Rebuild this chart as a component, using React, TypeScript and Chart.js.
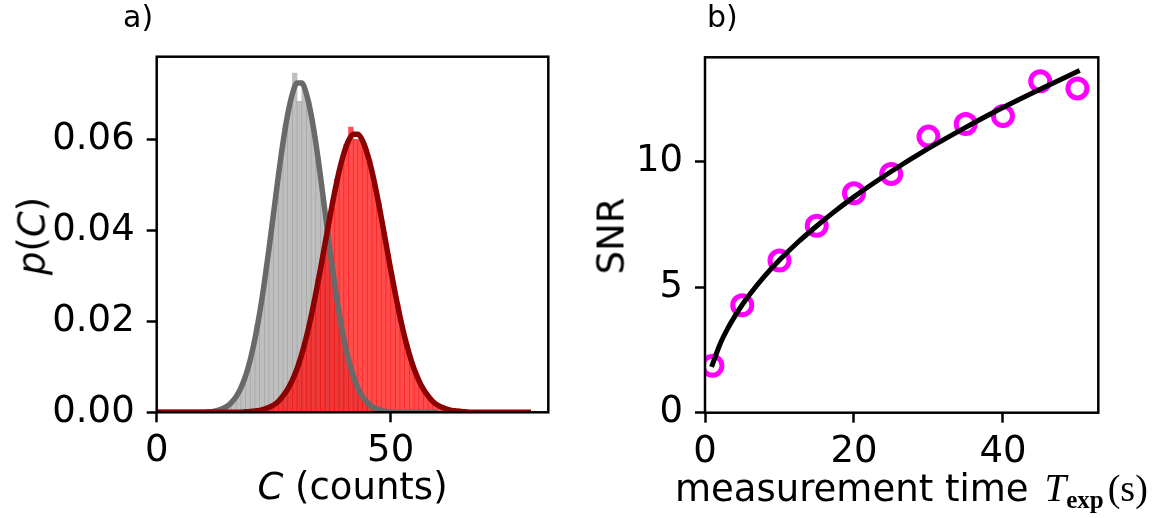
import React, { useEffect, useRef } from "react";
import { Chart, registerables } from "chart.js";

Chart.register(...registerables);

// ---------- Panel a: photon-count histograms ----------
const A_X_TICKS = [0, 50];
const A_X_TICK_LABELS = ["0", "50"];
const A_Y_TICKS = [0, 0.02, 0.04, 0.06];
const A_Y_TICK_LABELS = ["0.00", "0.02", "0.04", "0.06"];

// gray histogram: bins [k, k+1), first bin k = 12
const GRAY_HIST_FIRST_BIN = 12;
const GRAY_HIST = [
  0.0003, 0.0006, 0.001, 0.0018, 0.0027, 0.0045, 0.0064, 0.0099, 0.0136, 0.0192,
  0.0248, 0.0325, 0.0396, 0.0484, 0.0553, 0.0632, 0.0676, 0.0747, 0.0685, 0.0712,
  0.0684, 0.0622, 0.0561, 0.0476, 0.0403, 0.0319, 0.0254, 0.0186, 0.014, 0.0095,
  0.0067, 0.0043, 0.0029, 0.0016, 0.001, 0.0005, 0.0003, 0.0002, 0.0001,
];

// red histogram: bins [k, k+1), first bin k = 20
const RED_HIST_FIRST_BIN = 20;
const RED_HIST = [
  0.0002, 0.0003, 0.0006, 0.0008, 0.0014, 0.0019, 0.0031, 0.0042, 0.0062, 0.0081,
  0.0114, 0.0143, 0.0191, 0.0232, 0.0292, 0.034, 0.0405, 0.0452, 0.0513, 0.0547,
  0.059, 0.0628, 0.0601, 0.06, 0.0583, 0.0556, 0.0501, 0.0461, 0.0396, 0.0348,
  0.0284, 0.0238, 0.0185, 0.0149, 0.0109, 0.0085, 0.0058, 0.0044, 0.0029, 0.0021,
  0.0012, 0.0009, 0.0005, 0.0003, 0.0002, 0.0001,
];

// smooth model curves, sampled at C = 0, 1, 2, ...
const GRAY_CURVE_FIRST_C = 0;
const GRAY_CURVE = [
  0, 0, 0, 0, 0, 0, 0, 0, 0, 0, 0,
  0.0001, 0.0002, 0.0004, 0.0008, 0.0013, 0.0022, 0.0035, 0.0054, 0.008, 0.0116,
  0.0162, 0.0218, 0.0285, 0.036, 0.044, 0.052, 0.0594, 0.0656, 0.0701, 0.0725,
  0.0725, 0.0701, 0.0656, 0.0594, 0.052, 0.044, 0.036, 0.0285, 0.0218, 0.0162,
  0.0116, 0.008, 0.0054, 0.0035, 0.0022, 0.0013, 0.0008, 0.0004, 0.0002, 0.0001,
  0, 0, 0, 0, 0, 0, 0, 0, 0, 0,
];
const RED_CURVE_FIRST_C = 0;
const RED_CURVE = [
  0, 0, 0, 0, 0, 0, 0, 0, 0, 0, 0, 0, 0, 0, 0, 0, 0, 0, 0,
  0.0001, 0.0002, 0.0003, 0.0004, 0.0007, 0.0011, 0.0016, 0.0024, 0.0036, 0.0051,
  0.0071, 0.0096, 0.0128, 0.0166, 0.0211, 0.0261, 0.0315, 0.0372, 0.0429, 0.0483,
  0.0531, 0.057, 0.0598, 0.0612, 0.0612, 0.0598, 0.057, 0.0531, 0.0483, 0.0429,
  0.0372, 0.0315, 0.0261, 0.0211, 0.0166, 0.0128, 0.0096, 0.0071, 0.0051, 0.0036,
  0.0024, 0.0016, 0.0011, 0.0007, 0.0004, 0.0003, 0.0002, 0.0001,
  0, 0, 0, 0, 0, 0, 0, 0, 0, 0, 0, 0, 0, 0,
];

// ---------- Panel b: SNR vs measurement time ----------
const B_X_TICKS = [0, 20, 40];
const B_X_TICK_LABELS = ["0", "20", "40"];
const B_Y_TICKS = [0, 5, 10];
const B_Y_TICK_LABELS = ["0", "5", "10"];
const MEAS_T = [1, 5, 10, 15, 20, 25, 30, 35, 40, 45, 50];
const MEAS_SNR = [1.87, 4.28, 6.06, 7.45, 8.74, 9.51, 11.0, 11.5, 11.82, 13.21, 12.92];
const FIT_T = [1, 2, 3, 4, 5, 6, 8, 10, 12.5, 15, 17.5, 20, 25, 30, 35, 40, 45, 50];
const FIT_SNR = [
  1.92, 2.72, 3.33, 3.84, 4.3, 4.71, 5.44, 6.08, 6.8, 7.44, 8.04, 8.6, 9.61, 10.53,
  11.37, 12.16, 12.89, 13.59,
];

const FONT = "DejaVu Sans";
const FS = 37;
Chart.defaults.font.family = FONT;
Chart.defaults.color = "#000";

const framePlugin = {
  id: "frame",
  afterDraw(chart: any) {
    const { ctx, chartArea } = chart;
    const { left, top, right, bottom } = chartArea;
    ctx.save();
    ctx.strokeStyle = "#000";
    ctx.lineWidth = 2.5;
    ctx.strokeRect(left, top, right - left, bottom - top);
    ctx.restore();
  },
};

function axis(
  min: number,
  max: number,
  ticks: number[],
  labels: string[],
  size: number,
  horizontal: boolean,
  pad: number
) {
  return {
    type: "linear",
    min,
    max,
    offset: false,
    border: { display: false },
    grid: {
      display: true,
      offset: false,
      drawOnChartArea: false,
      drawTicks: true,
      tickLength: 10,
      tickWidth: 2.5,
      tickColor: "#000",
    },
    ticks: {
      autoSkip: false,
      maxRotation: 0,
      minRotation: 0,
      padding: pad,
      color: "#000",
      font: { family: FONT, size: FS },
      callback: (v: number) => {
        const i = ticks.findIndex((t) => Math.abs(t - v) < 1e-9);
        return i >= 0 ? labels[i] : "";
      },
    },
    afterBuildTicks: (s: any) => {
      s.ticks = ticks.map((v) => ({ value: v }));
    },
    afterFit: (s: any) => {
      if (horizontal) s.height = size;
      else s.width = size;
    },
  };
}

function configA() {
  const grayBars = GRAY_HIST.map((y, i) => ({ x: GRAY_HIST_FIRST_BIN + i + 0.5, y }));
  const redBars = RED_HIST.map((y, i) => ({ x: RED_HIST_FIRST_BIN + i + 0.5, y }));
  const grayLine = GRAY_CURVE.map((y, i) => ({ x: GRAY_CURVE_FIRST_C + i, y }));
  const redLine = RED_CURVE.map((y, i) => ({ x: RED_CURVE_FIRST_C + i, y }));
  return {
    type: "bar",
    data: {
      datasets: [
        {
          type: "line",
          data: redLine,
          borderColor: "#8b0000",
          borderWidth: 5.5,
          pointRadius: 0,
          cubicInterpolationMode: "monotone",
          order: 1,
          clip: 0,
        },
        {
          type: "line",
          data: grayLine,
          borderColor: "#696969",
          borderWidth: 5.5,
          pointRadius: 0,
          cubicInterpolationMode: "monotone",
          order: 2,
          clip: 0,
        },
        {
          type: "bar",
          data: redBars,
          backgroundColor: "rgba(255,0,0,0.7)",
          borderWidth: 0,
          barPercentage: 1,
          categoryPercentage: 1,
          grouped: false,
          order: 3,
          clip: 0,
        },
        {
          type: "bar",
          data: grayBars,
          backgroundColor: "rgba(128,128,128,0.5)",
          borderWidth: 0,
          barPercentage: 1,
          categoryPercentage: 1,
          grouped: false,
          order: 4,
          clip: 0,
        },
      ],
    },
    options: {
      responsive: false,
      animation: false,
      events: [],
      layout: { padding: { left: 0, top: 56.7, right: 30.7, bottom: 0 } },
      plugins: { legend: { display: false }, tooltip: { enabled: false } },
      scales: {
        x: axis(0, 83.7, A_X_TICKS, A_X_TICK_LABELS, 105.7, true, 7),
        y: axis(0, 0.0783, A_Y_TICKS, A_Y_TICK_LABELS, 156.7, false, 12),
      },
    },
    plugins: [framePlugin],
  };
}

function configB() {
  const pts = MEAS_T.map((x, i) => ({ x, y: MEAS_SNR[i] }));
  const fit = FIT_T.map((x, i) => ({ x, y: FIT_SNR[i] }));
  return {
    type: "line",
    data: {
      datasets: [
        {
          type: "line",
          data: fit,
          borderColor: "#000",
          borderWidth: 5,
          borderCapStyle: "square",
          pointRadius: 0,
          cubicInterpolationMode: "monotone",
          order: 1,
          clip: 0,
        },
        {
          type: "line",
          data: pts,
          showLine: false,
          pointRadius: 9.5,
          pointBorderWidth: 5,
          pointBorderColor: "#ff00ff",
          pointBackgroundColor: "rgba(0,0,0,0)",
          borderColor: "#ff00ff",
          order: 2,
          clip: 0,
        },
      ],
    },
    options: {
      responsive: false,
      animation: false,
      events: [],
      layout: { padding: { left: 0, top: 57.3, right: 59.7, bottom: 0 } },
      plugins: { legend: { display: false }, tooltip: { enabled: false } },
      scales: {
        x: axis(0, 52.8, B_X_TICKS, B_X_TICK_LABELS, 105.3, true, 7),
        y: axis(0, 14.16, B_Y_TICKS, B_Y_TICK_LABELS, 126, false, 12),
      },
    },
    plugins: [framePlugin],
  };
}

function ChartCanvas({ make, left }: { make: () => any; left: number }) {
  const ref = useRef<HTMLCanvasElement | null>(null);
  useEffect(() => {
    const chart = new Chart(ref.current as HTMLCanvasElement, make());
    return () => chart.destroy();
  }, []);
  return (
    <canvas
      ref={ref}
      width={579}
      height={518}
      style={{ position: "absolute", left, top: 0, width: 579, height: 518 }}
    />
  );
}

const txt: React.CSSProperties = {
  position: "absolute",
  fontFamily: FONT,
  lineHeight: 1,
  whiteSpace: "nowrap",
  color: "#000",
};

export default function App() {
  return (
    <div
      style={{
        position: "fixed",
        left: 0,
        top: 0,
        width: 1158,
        height: 518,
        background: "#fff",
        overflow: "hidden",
      }}
    >
      <ChartCanvas make={configA} left={0} />
      <ChartCanvas make={configB} left={579} />

      <div style={{ ...txt, left: 123, top: 2, fontSize: 30 }}>a)</div>
      <div style={{ ...txt, left: 707, top: 2, fontSize: 30 }}>b)</div>

      <div
        style={{
          ...txt,
          left: 32,
          top: 236,
          fontSize: FS,
          transform: "translate(-50%,-50%) rotate(-90deg)",
        }}
      >
        <span style={{ fontStyle: "italic" }}>p</span>(<span style={{ fontStyle: "italic" }}>C</span>)
      </div>
      <div
        style={{
          ...txt,
          left: 352.5,
          top: 467.7,
          fontSize: FS,
          transform: "translateX(-50%)",
        }}
      >
        <span style={{ fontStyle: "italic" }}>C</span> (counts)
      </div>

      <div
        style={{
          ...txt,
          left: 611,
          top: 236,
          fontSize: FS,
          transform: "translate(-50%,-50%) rotate(-90deg)",
        }}
      >
        SNR
      </div>
      <div style={{ ...txt, left: 675, top: 467.7, fontSize: FS }}>
        measurement time
        <span
          style={{
            fontFamily: "Liberation Serif",
            fontStyle: "italic",
            fontSize: 39,
            marginLeft: 16,
          }}
        >
          T
        </span>
        <span
          style={{
            fontFamily: "Liberation Serif",
            fontWeight: "bold",
            fontSize: 25,
            position: "relative",
            top: 7,
          }}
        >
          exp
        </span>
        <span style={{ fontFamily: "Liberation Serif", fontSize: 38, marginLeft: 4 }}>
          (s)
        </span>
      </div>
    </div>
  );
}
